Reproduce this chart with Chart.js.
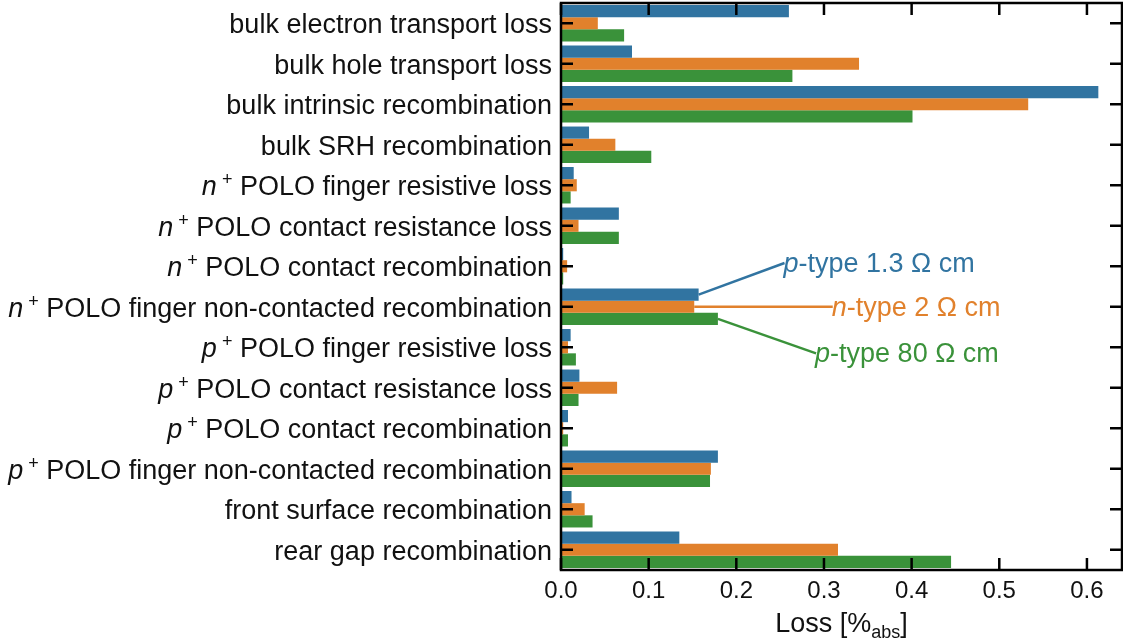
<!DOCTYPE html>
<html>
<head>
<meta charset="utf-8">
<script src="https://cdn.jsdelivr.net/npm/chart.js@4.4.1/dist/chart.umd.min.js"></script>
<style>
  html, body { margin: 0; padding: 0; background: #fff; }
  #wrap { width: 1123px; height: 643px; }
</style>
</head>
<body>
<div id="wrap"><canvas id="lossChart"></canvas></div>
<script>
// loss channels, top to bottom ("n^+" / "p^+" = italic letter with superscript plus)
var categories = [
  'bulk electron transport loss',
  'bulk hole transport loss',
  'bulk intrinsic recombination',
  'bulk SRH recombination',
  'n^+ POLO finger resistive loss',
  'n^+ POLO contact resistance loss',
  'n^+ POLO contact recombination',
  'n^+ POLO finger non-contacted recombination',
  'p^+ POLO finger resistive loss',
  'p^+ POLO contact resistance loss',
  'p^+ POLO contact recombination',
  'p^+ POLO finger non-contacted recombination',
  'front surface recombination',
  'rear gap recombination'
];

// losses in %abs per wafer type
var pType13 = [0.260, 0.081, 0.613, 0.032, 0.0145, 0.066, 0.0025, 0.157, 0.011, 0.021, 0.008, 0.179, 0.012, 0.135];
var nType2  = [0.042, 0.340, 0.533, 0.062, 0.018, 0.020, 0.007, 0.152, 0.008, 0.064, 0.0025, 0.171, 0.027, 0.316];
var pType80 = [0.072, 0.264, 0.401, 0.103, 0.011, 0.066, 0.0025, 0.179, 0.017, 0.020, 0.008, 0.170, 0.036, 0.445];

var seriesNames = ['p-type 1.3 \u03A9 cm', 'n-type 2 \u03A9 cm', 'p-type 80 \u03A9 cm'];
var seriesColors = ['#3174a1', '#e1812c', '#3a923a'];

var xTicks = [0, 0.1, 0.2, 0.3, 0.4, 0.5, 0.6];
var xMax = 0.64;

// series names hang off the bars of this category; text anchored at [x value, category index]
var annotIndex = 7;
var annotPos = [[0.255, 5.92], [0.31, 7.0], [0.291, 8.15]];

var FONT = '"Liberation Sans", Arial, sans-serif';
var LABEL_SIZE = 27;
var TICK_SIZE = 24;

function labelParts(str) {
  var m = /^([np])\^\+ (.*)$/.exec(str);
  if (!m) return [{ t: str, f: LABEL_SIZE + 'px ' + FONT }];
  return [
    { t: m[1], f: 'italic ' + LABEL_SIZE + 'px ' + FONT },
    { t: '+', f: '18px ' + FONT, dy: -10, gap: 5 },
    { t: ' ' + m[2], f: LABEL_SIZE + 'px ' + FONT }
  ];
}

function seriesParts(str) {
  return [
    { t: str.charAt(0), f: 'italic ' + LABEL_SIZE + 'px ' + FONT },
    { t: str.slice(1), f: LABEL_SIZE + 'px ' + FONT }
  ];
}

// draw differently styled text pieces along one baseline
function drawParts(ctx, parts, x, y, align) {
  var total = 0;
  parts.forEach(function (p) {
    ctx.font = p.f;
    p.w = ctx.measureText(p.t).width + (p.gap || 0);
    total += p.w;
  });
  var cx = align === 'right' ? x - total : align === 'center' ? x - total / 2 : x;
  ctx.textAlign = 'left';
  ctx.textBaseline = 'alphabetic';
  parts.forEach(function (p) {
    ctx.font = p.f;
    ctx.fillText(p.t, cx + (p.gap || 0), y + (p.dy || 0));
    cx += p.w;
  });
}

var decorPlugin = {
  id: 'decor',
  afterDatasetsDraw: function (chart) {
    var ctx = chart.ctx, a = chart.chartArea;
    var xs = chart.scales.x, ys = chart.scales.y;
    ctx.save();

    // category labels
    ctx.fillStyle = '#111';
    categories.forEach(function (c, i) {
      drawParts(ctx, labelParts(c), a.left - 9, ys.getPixelForValue(i) + 10, 'right');
    });

    // x tick labels
    ctx.font = TICK_SIZE + 'px ' + FONT;
    ctx.textAlign = 'center';
    ctx.textBaseline = 'alphabetic';
    xTicks.forEach(function (v) {
      ctx.fillText(v.toFixed(1), xs.getPixelForValue(v), a.bottom + 28);
    });

    // axis title with subscript
    drawParts(ctx, [
      { t: 'Loss [%', f: LABEL_SIZE + 'px ' + FONT },
      { t: 'abs', f: '18px ' + FONT, dy: 6 },
      { t: ']', f: LABEL_SIZE + 'px ' + FONT }
    ], (a.left + a.right) / 2, 632, 'center');

    // series names with leader lines to their bars
    ctx.lineWidth = 2.5;
    seriesNames.forEach(function (name, i) {
      var bar = chart.getDatasetMeta(i).data[annotIndex];
      var tx = xs.getPixelForValue(annotPos[i][0]);
      var ty = ys.getPixelForValue(annotPos[i][1]);
      ctx.strokeStyle = seriesColors[i];
      ctx.beginPath();
      ctx.moveTo(bar.x, bar.y);
      ctx.lineTo(tx, ty);
      ctx.stroke();
      ctx.fillStyle = seriesColors[i];
      drawParts(ctx, seriesParts(name), tx - 1, ty + 9, 'left');
    });

    // inward ticks on all four sides
    var tl = 12;
    ctx.strokeStyle = '#000';
    ctx.lineWidth = 2.5;
    ctx.beginPath();
    categories.forEach(function (c, i) {
      var y = ys.getPixelForValue(i);
      ctx.moveTo(a.left, y); ctx.lineTo(a.left + tl, y);
      ctx.moveTo(a.right, y); ctx.lineTo(a.right - tl, y);
    });
    xTicks.forEach(function (v) {
      var x = xs.getPixelForValue(v);
      ctx.moveTo(x, a.top); ctx.lineTo(x, a.top + tl);
      ctx.moveTo(x, a.bottom); ctx.lineTo(x, a.bottom - tl);
    });
    ctx.stroke();

    // frame
    ctx.strokeRect(a.left, a.top, a.right - a.left, a.bottom - a.top);
    ctx.restore();
  }
};

var datasets = [pType13, nType2, pType80].map(function (vals, i) {
  return {
    label: seriesNames[i],
    data: vals,
    backgroundColor: seriesColors[i],
    borderWidth: 0,
    categoryPercentage: 0.9,
    barPercentage: 1.0
  };
});

new Chart(document.getElementById('lossChart').getContext('2d'), {
  type: 'bar',
  data: { labels: categories, datasets: datasets },
  options: {
    indexAxis: 'y',
    responsive: true,
    maintainAspectRatio: false,
    animation: false,
    layout: { padding: { left: 561, right: 1, top: 3, bottom: 73 } },
    plugins: { legend: { display: false }, tooltip: { enabled: false } },
    scales: {
      x: { display: false, min: 0, max: xMax },
      y: { display: false, offset: true }
    }
  },
  plugins: [decorPlugin]
});
</script>
</body>
</html>
